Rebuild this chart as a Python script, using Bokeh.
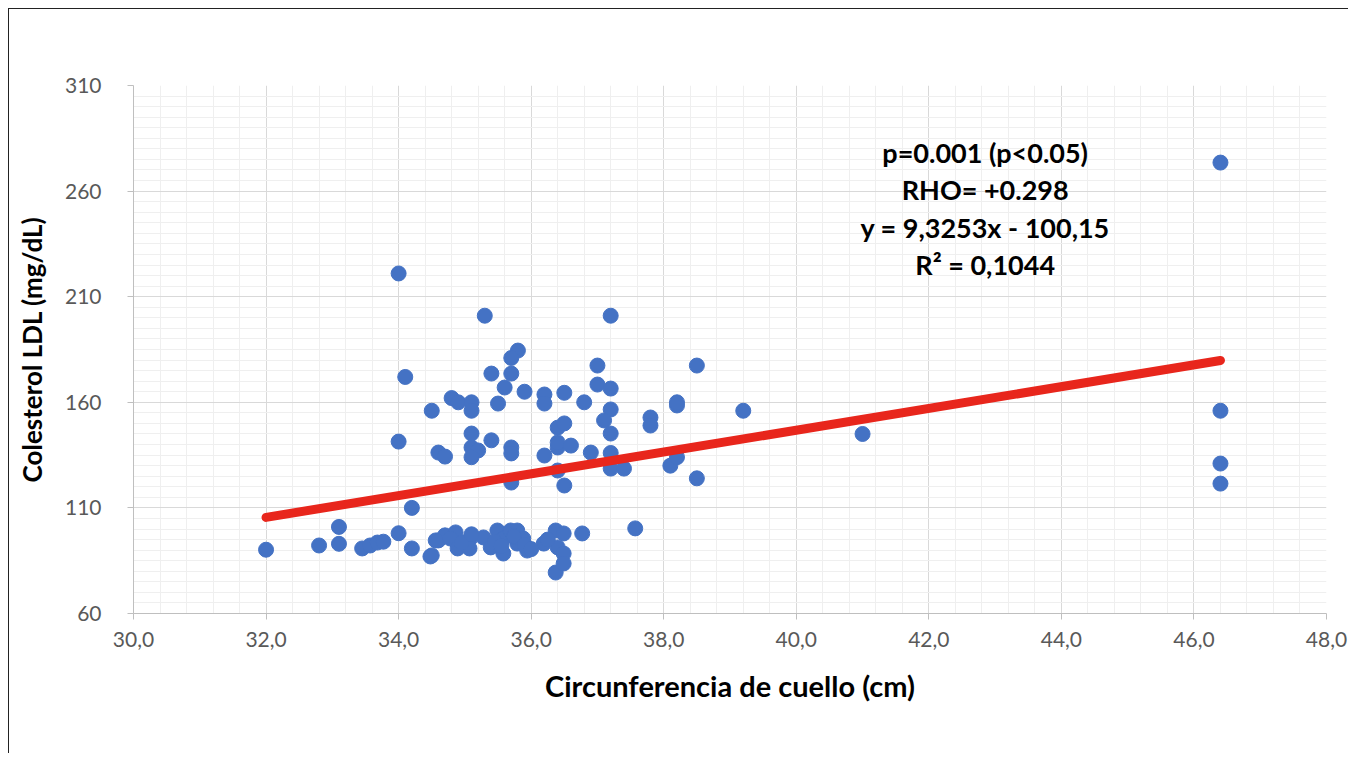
from bokeh.plotting import figure
from bokeh.models import ColumnDataSource, Range1d, FixedTicker, Label
from bokeh.embed import file_html
from bokeh.resources import INLINE

# ---- data ----
neck_cm = [
    32.0, 32.8, 33.1, 33.1, 33.45, 33.57, 33.68, 33.77, 34.0, 34.2, 34.2, 34.5, 34.6, 34.7,
    34.56, 34.86, 34.78, 34.89, 35.08, 35.07, 35.28, 35.39, 35.49, 35.58, 35.58, 35.69,
    35.79, 35.79, 35.94, 35.88, 36.19, 36.37, 36.49, 36.4, 36.49, 36.37, 36.49, 36.77,
    34.48, 34.95, 35.1, 35.45, 35.55, 35.74, 35.9, 36.0, 36.25, 37.57,
    34.0, 34.1, 34.0, 35.3, 37.2, 35.8, 35.7, 35.4, 35.7, 35.6, 35.9, 36.2, 36.2, 36.5,
    36.8, 37.0, 37.0, 37.2, 37.2, 37.1, 37.2, 37.8, 37.8, 34.5, 34.8, 34.9, 35.1, 35.1,
    35.5, 35.1, 35.4, 34.6, 34.7, 35.1, 35.2, 35.1, 35.7, 35.7, 35.7, 36.2, 36.4, 36.4,
    36.4, 36.5, 36.6, 36.9, 37.2, 37.2, 37.4, 36.5, 36.4, 38.1, 38.2, 38.2, 38.2, 38.5,
    38.5, 39.2, 41.0, 46.4, 46.4, 46.4, 46.4,
]
ldl_mg_dl = [
    90.2, 92.2, 93.0, 101.0, 90.8, 92.2, 93.6, 94.0, 98.0, 110.0, 90.8, 87.5, 94.6, 97.0,
    94.6, 98.4, 95.5, 90.8, 95.5, 90.8, 96.0, 91.3, 99.3, 95.5, 88.4, 99.3,
    99.3, 93.1, 89.8, 95.5, 93.1, 99.3, 97.9, 91.3, 88.4, 79.4, 83.7, 97.9,
    87.0, 93.5, 97.5, 94.0, 92.0, 96.5, 92.5, 90.5, 95.0, 100.3,
    221.0, 172.0, 141.4, 201.0, 201.0, 184.5, 181.0, 173.6, 173.6, 167.0, 165.0, 163.7, 159.4, 164.5,
    160.0, 177.4, 168.4, 166.5, 156.6, 151.4, 145.2, 152.8, 149.0, 156.0, 162.0, 160.0, 160.0, 156.0,
    159.4, 145.2, 142.0, 136.2, 134.3, 138.6, 137.2, 134.0, 138.6, 135.8, 122.0, 134.8, 138.6, 141.0,
    148.0, 150.0, 139.5, 136.2, 136.0, 128.6, 128.6, 120.6, 127.7, 130.0, 134.0, 158.5, 160.0, 177.4,
    124.0, 156.0, 145.0, 273.5, 156.0, 131.0, 121.5,
]
trend_x = [32.0, 46.4]
trend_y = [105.5, 179.8]

x_ticks = [30, 32, 34, 36, 38, 40, 42, 44, 46, 48]
x_tick_labels = ["30,0", "32,0", "34,0", "36,0", "38,0", "40,0", "42,0", "44,0", "46,0", "48,0"]
y_ticks = [60, 110, 160, 210, 260, 310]
y_tick_labels = ["60", "110", "160", "210", "260", "310"]

stats_lines = ["p=0.001 (p<0.05)", "RHO= +0.298", "y = 9,3253x - 100,15", "R\u00b2 = 0,1044"]

x_title = "Circunferencia de cuello (cm)"
y_title = "Colesterol LDL (mg/dL)"

# ---- figure ----
FONT = "Lato"
p = figure(width=1340, height=745, output_backend="svg", toolbar_location=None,
           x_range=Range1d(30, 48), y_range=Range1d(60, 310),
           min_border_left=124, min_border_right=23, min_border_top=76, min_border_bottom=141)
p.styles = {"margin-left": "8px", "margin-top": "8px",
            "border-top": "1px solid #222", "border-left": "1px solid #222"}
p.outline_line_color = None
p.background_fill_color = "white"
p.border_fill_color = "white"

for ax, ticks, labels, nsub in ((p.xaxis, x_ticks, x_tick_labels, 5), (p.yaxis, y_ticks, y_tick_labels, 10)):
    ax.ticker = FixedTicker(ticks=ticks,
                            minor_ticks=[t0 + (t1 - t0) * k / nsub
                                         for t0, t1 in zip(ticks[:-1], ticks[1:])
                                         for k in range(1, nsub)])
    ax.major_label_overrides = {t: l for t, l in zip(ticks, labels)}
    ax.axis_line_color = "#bfbfbf"
    ax.major_tick_line_color = "#bfbfbf"
    ax.major_tick_in = 0
    ax.major_tick_out = 6
    ax.minor_tick_line_color = None
    ax.major_label_text_font = FONT
    ax.major_label_text_color = "#595959"
    ax.axis_label_text_font = FONT
    ax.axis_label_text_font_style = "bold"
    ax.axis_label_text_color = "black"

p.xaxis.major_label_text_font_size = "21px"
p.yaxis.major_label_text_font_size = "21px"
p.xaxis.axis_label = x_title
p.xaxis.axis_label_text_font_size = "29px"
p.xaxis.major_label_standoff = 12
p.xaxis.axis_label_standoff = 18
p.yaxis.axis_label = y_title
p.yaxis.axis_label_text_font_size = "26px"
p.yaxis.major_label_standoff = 26
p.yaxis.axis_label_standoff = 14

p.xgrid.grid_line_color = "#d9d9d9"
p.ygrid.grid_line_color = "#d9d9d9"
p.xgrid.minor_grid_line_color = "#efefef"
p.ygrid.minor_grid_line_color = "#efefef"

src = ColumnDataSource(data=dict(x=neck_cm, y=ldl_mg_dl))
p.scatter("x", "y", source=src, size=15, fill_color="#4472C4", line_color="#4472C4")
p.line(trend_x, trend_y, line_color="#E8261C", line_width=9, line_cap="round")

stat_x = 42.85
stat_y_top = 278.3
stat_step = 17.7
for i, line in enumerate(stats_lines):
    p.add_layout(Label(x=stat_x, y=stat_y_top - i * stat_step, text=line,
                       text_align="center", text_baseline="middle",
                       text_font=FONT, text_font_style="bold", text_font_size="27px",
                       text_color="black"))

open("out.html", "w").write(file_html(p, INLINE))
